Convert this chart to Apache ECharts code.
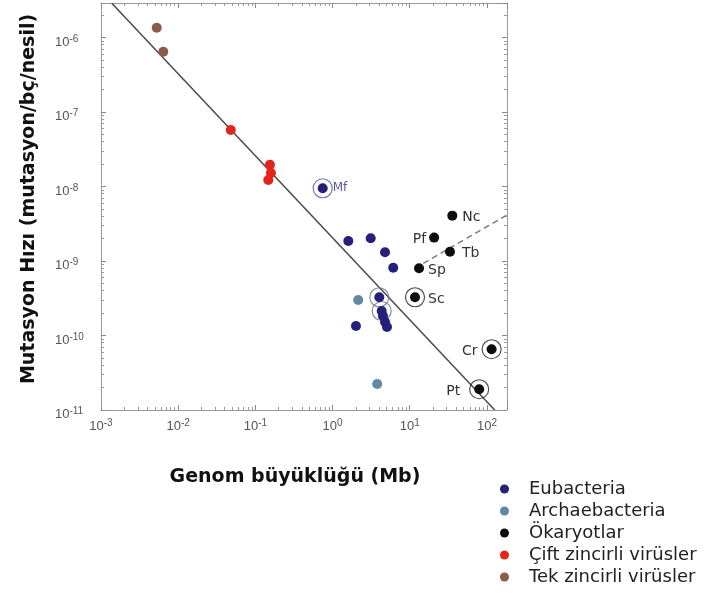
<!DOCTYPE html>
<html>
<head>
<meta charset="utf-8">
<title>Mutasyon Hızı - Genom büyüklüğü</title>
<script src="https://cdn.jsdelivr.net/npm/echarts@6/dist/echarts.min.js"></script>
<style>
	html, body { margin: 0; padding: 0; background: #fff; }
	#main { width: 712px; height: 601px; }
</style>
</head>
<body>
	<div id="main"></div>
	<script type="text/javascript">
		// [genom (Mb), mutasyon/bç/nesil]
		var eubacteria = [[0.745, 9.46e-9], [1.6, 1.85e-9], [3.12, 2.02e-9], [4.78, 1.31e-9], [6.11, 8.1e-10],
			[4.03, 3.26e-10], [4.33, 2.13e-10], [4.5, 1.83e-10], [4.78, 1.52e-10], [5.07, 1.30e-10], [2.01, 1.34e-10]];
		var eubNames = ['Mf'];            // eubacteria[0]
		var eubRinged = [0, 5, 6];
		var archaebacteria = [[2.15, 3.0e-10], [3.79, 2.23e-11]];
		var eukNames = ['Nc', 'Pf', 'Tb', 'Sp', 'Sc', 'Cr', 'Pt'];
		var eukPoints = [[35.6, 4.06e-9], [20.7, 2.06e-9], [33.2, 1.33e-9], [13.2, 7.98e-10],
			[11.7, 3.26e-10], [115, 6.54e-11], [79.4, 1.90e-11]];
		var eukRinged = ['Sc', 'Cr', 'Pt'];
		var dsVirus = [[0.048, 5.73e-8], [0.1545, 1.95e-8], [0.159, 1.52e-8], [0.147, 1.22e-8]];
		var ssVirus = [[0.00527, 1.35e-6], [0.00641, 6.44e-7]];
		var fitLine = [[0.00138, 2.88e-6], [126, 1e-11]];
		var eukTrend = [[14.96, 9.3e-10], [182, 4.14e-9]];
		var xRange = [1e-3, 182];
		var yRange = [1e-11, 2.9e-6];
		var seriesNames = ['Eubacteria', 'Archaebacteria', 'Ökaryotlar', 'Çift zincirli virüsler', 'Tek zincirli virüsler'];
		var seriesColors = ['#25207a', '#5f8aa2', '#0d0d0d', '#e3241b', '#8d5a4c'];

		var leftLabels = ['Pf', 'Cr', 'Pt'];
		var labelDist = { Nc: 5, Pf: 3, Tb: 7, Sp: 4, Sc: 8, Cr: 9, Pt: 14 };

		function powLabel(v) {
			var e = Math.log10(v), n = Math.round(e);
			if (Math.abs(e - n) > 1e-6) return '';
			return '{b|10}{s|' + n + '}';
		}
		var labelRich = {
			b: { fontFamily: 'Liberation Sans', fontSize: 13, color: '#555', lineHeight: 16 },
			s: { fontFamily: 'Liberation Sans', fontSize: 10, color: '#555', lineHeight: 9, verticalAlign: 'top' }
		};

		function logAxis(position, range, showLabel) {
			var ax = {
				type: 'log',
				logBase: 10,
				position: position,
				min: range[0],
				max: range[1],
				axisLine: { show: true, lineStyle: { color: '#9a9a9a', width: 1 } },
				axisTick: { show: true, inside: true, length: 5, lineStyle: { color: '#8a8a8a' } },
				minorTick: { show: true, splitNumber: 9, length: 3, lineStyle: { color: '#9a9a9a' } },
				splitLine: { show: false },
				minorSplitLine: { show: false },
				axisLabel: { show: false }
			};
			if (showLabel) {
				ax.axisLabel = {
					show: true,
					showMaxLabel: false,
					formatter: powLabel,
					rich: labelRich
				};
			}
			return ax;
		}

		var xBottom = logAxis('bottom', xRange, true);
		xBottom.axisLabel.margin = 8;
		xBottom.name = 'Genom büyüklüğü (Mb)';
		xBottom.nameLocation = 'middle';
		xBottom.nameGap = 58;
		xBottom.nameTextStyle = { fontFamily: 'DejaVu Sans', fontWeight: 'bold', fontSize: 19, color: '#111', padding: [0, 18, 0, 0] };

		var yLeft = logAxis('left', yRange, true);
		yLeft.axisLabel.margin = 46;
		yLeft.axisLabel.align = 'left';
		yLeft.axisLabel.padding = [9, 0, 0, 0];
		yLeft.name = 'Mutasyon Hızı (mutasyon/bç/nesil)';
		yLeft.nameLocation = 'middle';
		yLeft.nameGap = 62;
		yLeft.nameTextStyle = { fontFamily: 'DejaVu Sans', fontWeight: 'bold', fontSize: 19, color: '#111', padding: [0, 0, 0, 15] };

		var pointLabel = { fontFamily: 'DejaVu Sans', fontSize: 14, color: '#333', offset: [0, 2] };

		var eubData = eubacteria.map(function (p, i) {
			var item = { value: p };
			if (eubNames[i]) {
				item.label = { show: true, position: 'right', distance: 5, formatter: eubNames[i],
					fontFamily: 'DejaVu Sans', fontSize: 12, color: '#5856a8', offset: [0, 0] };
			}
			return item;
		});
		var eukData = eukPoints.map(function (p, i) {
			var nm = eukNames[i];
			return {
				value: p,
				name: nm,
				label: {
					show: true,
					position: leftLabels.indexOf(nm) >= 0 ? 'left' : 'right',
					distance: labelDist[nm],
					formatter: nm
				}
			};
		});

		var ringData = [];
		eubRinged.forEach(function (i) {
			ringData.push({ value: eubacteria[i], itemStyle: { borderColor: i === 0 ? '#5552a0' : '#6e6c98' } });
		});
		eukRinged.forEach(function (nm) {
			ringData.push({ value: eukPoints[eukNames.indexOf(nm)], itemStyle: { borderColor: '#222' } });
		});

		function dots(idx, data) {
			return {
				name: seriesNames[idx],
				type: 'scatter',
				symbol: 'circle',
				symbolSize: 10,
				itemStyle: { color: seriesColors[idx], opacity: 1 },
				data: data,
				z: 5,
				silent: true
			};
		}

		var eukSeries = dots(2, eukData);
		eukSeries.label = pointLabel;

		var myChart = echarts.init(document.getElementById('main'));
		myChart.setOption({
			animation: false,
			backgroundColor: '#fff',
			grid: { left: 101, top: 3, width: 406, height: 407, outerBoundsMode: 'none' },
			xAxis: [xBottom, logAxis('top', xRange, false)],
			yAxis: [yLeft, logAxis('right', yRange, false)],
			legend: {
				orient: 'vertical',
				left: 500,
				top: 478,
				padding: 0,
				itemGap: 0,
				itemWidth: 9,
				itemHeight: 9,
				icon: 'circle',
				selectedMode: false,
				data: seriesNames,
				textStyle: { fontFamily: 'DejaVu Sans', fontSize: 18, color: '#222', lineHeight: 22, padding: [0, 0, 0, 15] }
			},
			series: [
				{
					type: 'line',
					data: fitLine,
					symbol: 'none',
					silent: true,
					lineStyle: { color: '#4a4a4a', width: 1.5 },
					z: 2
				},
				{
					type: 'line',
					data: eukTrend,
					symbol: 'none',
					silent: true,
					lineStyle: { color: '#777', width: 1.3, type: [6, 4] },
					z: 2
				},
				{
					type: 'scatter',
					symbol: 'circle',
					symbolSize: 19,
					silent: true,
					itemStyle: { color: 'rgba(255,255,255,0)', borderWidth: 1.2 },
					data: ringData,
					z: 4
				},
				dots(0, eubData),
				dots(1, archaebacteria),
				eukSeries,
				dots(3, dsVirus),
				dots(4, ssVirus)
			]
		});
	</script>
</body>
</html>
